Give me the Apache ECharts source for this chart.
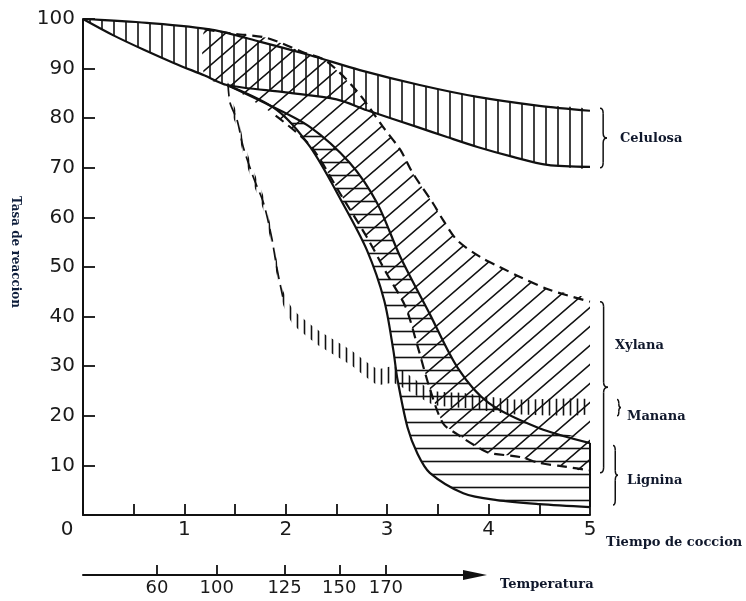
<!DOCTYPE html>
<html><head><meta charset="utf-8">
<script src="https://cdn.jsdelivr.net/npm/echarts@6/dist/echarts.min.js"></script>
<style>html,body{margin:0;padding:0;background:#fff}#c{width:746px;height:601px}</style>
</head><body><div id="c"></div>
<script>
// ---------- data (time of cooking vs. reaction rate) ----------
const celUpX = [0, 0.63, 1.28, 1.75, 2.24, 2.73, 3.32, 3.89, 4.5, 5];
const celUpY = [100, 99.2, 97.8, 95.4, 92.7, 89.7, 86.7, 84.3, 82.5, 81.5];
const celLoX = [0, 0.3, 0.6, 0.9, 1.2, 1.42, 2.0, 2.5, 2.8, 3.3, 3.59, 3.89, 4.24, 4.58, 5];
const celLoY = [100, 96.7, 93.8, 91.1, 88.6, 86.7, 85.2, 83.8, 81.6, 78.2, 76.2, 74.2, 72.2, 70.6, 70.2];

const xylUpX = [1.2, 1.5, 1.81, 2.17, 2.4, 2.7, 2.96, 3.13, 3.25, 3.45, 3.55, 3.69, 3.92, 4.11, 4.31, 4.6, 5];
const xylUpY = [97.9, 97.0, 96.2, 93.3, 91.5, 85.5, 78.2, 73.6, 69, 62.9, 59.5, 55.4, 52, 50, 48, 45.4, 43];
const xylLoX = [1.2, 1.42, 1.9, 2.24, 2.56, 2.8, 3.0, 3.18, 3.3, 3.42, 3.55, 3.69, 3.89, 4.01, 4.31, 4.5, 4.77, 5];
const xylLoY = [88.2, 86.7, 80.5, 74.5, 64, 56, 48.5, 42, 34, 25.5, 18.5, 16.3, 13.7, 12.5, 11.7, 10.5, 9.7, 9];

const ligLoX = [1.42, 1.91, 2.24, 2.56, 2.8, 2.97, 3.06, 3.1, 3.2, 3.3, 3.42, 3.75, 4.08, 4.5, 5];
const ligLoY = [86.7, 81.7, 74.2, 62.9, 53.4, 43.3, 33.3, 27.5, 17.7, 12.3, 8.5, 4.4, 3.0, 2.2, 1.6];
const ligUpX = [1.42, 1.8, 2.24, 2.63, 2.9, 3.13, 3.42, 3.7, 4.0, 4.5, 5];
const ligUpY = [86.7, 83, 78.2, 71, 62.9, 52, 40.5, 29.5, 22.6, 17.5, 14.5];

const manX  = [1.43, 1.45, 1.52, 1.58, 1.68, 1.78, 1.86, 1.91, 1.97, 2.07, 2.31, 2.63, 2.9, 3.06, 3.16, 3.45, 3.75, 4.24, 5];
const manUp = [87.5, 84.5, 81, 75.6, 69.5, 64.3, 57.4, 51.4, 45.4, 41.5, 37.4, 33.4, 29.5, 30, 29, 25.1, 24.6, 23.3, 23.3];
const manLo = [86.5, 81.7, 78.2, 72.8, 66.7, 61.5, 54.6, 48.6, 42.6, 38.5, 34.4, 30.4, 26.3, 26.6, 25.6, 22.3, 21.6, 20.3, 20.3];

// temperature scale under the time axis
const tempLabels = ['60', '100', '125', '150', '170'];
const tempPos = [0.73, 1.32, 1.99, 2.53, 2.99];

// legend braces on the right
const legendNames = ['Celulosa', 'Xylana', 'Manana', 'Lignina'];
const braceTop = [82, 43, 23.3, 14];
const braceBottom = [70, 8.5, 20, 2];

// ---------- styling / layout ----------
const INK = '#111';
const TXT = '#10182c';
const braceLayout = [
  {dx: 10, w: 7, tx: 30, ty: 1},
  {dx: 10, w: 8, tx: 25, ty: -42},
  {dx: 27, w: 4, tx: 37, ty: 9},
  {dx: 23, w: 5, tx: 37, ty: 5}
];

function makePattern(kind, w, h, lw) {
  const c = document.createElement('canvas');
  c.width = w; c.height = h;
  const g = c.getContext('2d');
  g.strokeStyle = INK; g.lineWidth = lw; g.lineCap = 'butt';
  g.beginPath();
  if (kind === 'v') { g.moveTo(w / 2, 0); g.lineTo(w / 2, h); }
  else if (kind === 'h') { g.moveTo(0, h / 2); g.lineTo(w, h / 2); }
  else {
    for (let k = 0; k <= 2; k++) {
      g.moveTo((k - 1) * w - w * 0.2, h + h * 0.2);
      g.lineTo(k * w + w * 0.2, -h * 0.2);
    }
  }
  g.stroke();
  return {image: c, repeat: 'repeat'};
}

const patCel = makePattern('v', 12, 12, 1.6);
const patXyl = makePattern('d', 22, 19, 1.6);
const patLig = makePattern('h', 13, 13, 1.6);
const patMan = makePattern('v', 7, 7, 1.6);

function band(upX, upY, loX, loY, pattern, z) {
  return {
    type: 'custom', coordinateSystem: 'cartesian2d', xAxisIndex: 0, yAxisIndex: 0,
    silent: true, z: z, clip: true, animation: false,
    data: [[upX[0], upY[0]]],
    renderItem: function (params, api) {
      const pts = [];
      const push = function (p) {
        const q = pts[pts.length - 1];
        if (!q || Math.abs(q[0] - p[0]) > 0.01 || Math.abs(q[1] - p[1]) > 0.01) pts.push(p);
      };
      for (let i = 0; i < upX.length; i++) push(api.coord([upX[i], upY[i]]));
      for (let i = loX.length - 1; i >= 0; i--) push(api.coord([loX[i], loY[i]]));
      return {type: 'polygon', shape: {points: pts, smooth: 0.2}, style: {fill: pattern, stroke: null}};
    }
  };
}

function curve(xs, ys, dashed, fromX, toX, width) {
  const data = [];
  for (let i = 0; i < xs.length; i++) {
    if ((fromX == null || xs[i] >= fromX) && (toX == null || xs[i] <= toX)) data.push([xs[i], ys[i]]);
  }
  return {
    type: 'line', data: data, smooth: 0.3, showSymbol: false, symbol: 'none', silent: true, z: 5,
    animation: false,
    lineStyle: {color: INK, width: width || 2.2, type: dashed ? (Array.isArray(dashed) ? dashed : [10, 6]) : 'solid'}
  };
}

const manMid = manUp.map(function (u, i) { return (u + manLo[i]) / 2; });

const chart = echarts.init(document.getElementById('c'), null, {renderer: 'canvas'});

const labelFont = {fontFamily: 'DejaVu Sans', fontSize: 20, color: '#1a1a1a'};
const nameFont = {fontFamily: 'DejaVu Serif', fontWeight: 'bold', fontSize: 13, color: TXT};

chart.setOption({
  animation: false,
  backgroundColor: '#fff',
  grid: [
    {left: 83, top: 19, width: 507, height: 496},
    {left: 83, top: 574, width: 392, height: 1}
  ],
  xAxis: [
    {
      type: 'value', gridIndex: 0, min: 0, max: 5, interval: 0.5,
      axisLine: {lineStyle: {color: INK, width: 2}},
      axisTick: {inside: true, length: 11, lineStyle: {color: INK, width: 1.8}},
      splitLine: {show: false},
      axisLabel: Object.assign({
        margin: 5, showMinLabel: true, showMaxLabel: true,
        formatter: function (v) {
          if (Math.abs(v - Math.round(v)) > 1e-6) return '';
          return v === 0 ? '{z|0}' : String(Math.round(v));
        },
        rich: {z: Object.assign({padding: [0, 32, 0, 0]}, labelFont)}
      }, labelFont),
      name: 'Tiempo de coccion', nameLocation: 'end', nameGap: 16,
      nameTextStyle: Object.assign({verticalAlign: 'top', align: 'left', padding: [21, 0, 0, 0]}, nameFont)
    },
    {
      type: 'value', gridIndex: 1, min: 0, max: 3.87,
      axisLine: {lineStyle: {color: INK, width: 2}, symbol: ['none', 'triangle'], symbolSize: [10, 24]},
      axisTick: {inside: true, length: 10, customValues: tempPos, lineStyle: {color: INK, width: 1.8}},
      splitLine: {show: false},
      axisLabel: {
        margin: 4, customValues: tempPos, fontFamily: 'DejaVu Sans', color: '#1a1a1a', fontSize: 18,
        formatter: function (v) { const i = tempPos.indexOf(v); return i >= 0 ? tempLabels[i] : ''; }
      },
      name: 'Temperatura', nameLocation: 'end', nameGap: 25,
      nameTextStyle: Object.assign({verticalAlign: 'top', align: 'left', padding: [3, 0, 0, 0]}, nameFont)
    }
  ],
  yAxis: [
    {
      type: 'value', gridIndex: 0, min: 0, max: 100, interval: 10,
      axisLine: {show: true, lineStyle: {color: INK, width: 2}},
      axisTick: {show: true, inside: true, length: 12, lineStyle: {color: INK, width: 1.8}},
      splitLine: {show: false},
      axisLabel: Object.assign({margin: 8, formatter: function (v) { return v === 0 ? '' : String(v); }}, labelFont),
      name: 'Tasa de reaccion', nameLocation: 'middle', nameGap: 62, nameRotate: -90,
      nameTextStyle: Object.assign({padding: [0, 30, 0, 0]}, nameFont, {fontSize: 12, color: '#0e1e3c'})
    },
    {type: 'value', gridIndex: 1, min: 0, max: 1, show: false}
  ],
  series: [
    band(celUpX, celUpY, celLoX, celLoY, patCel, 2),
    band(xylUpX, xylUpY, xylLoX, xylLoY, patXyl, 2),
    band(ligUpX, ligUpY, ligLoX, ligLoY, patLig, 2),
    band(manX, manUp, manX, manLo, patMan, 3),
    curve(manX, manMid, [13, 6], null, 1.97, 1.7),
    curve(celUpX, celUpY, false),
    curve(celLoX, celLoY, false),
    curve(xylUpX, xylUpY, true),
    curve(xylLoX, xylLoY, true, 1.9),
    curve(ligLoX, ligLoY, false),
    curve(ligUpX, ligUpY, false),
    {
      type: 'line', silent: true, symbol: 'none', showSymbol: false, z: 5, animation: false,
      data: [[ligLoX[ligLoX.length - 1], ligLoY[ligLoY.length - 1]], [ligUpX[ligUpX.length - 1], ligUpY[ligUpY.length - 1]]],
      lineStyle: {color: INK, width: 2}
    },
    {
      type: 'custom', coordinateSystem: 'cartesian2d', xAxisIndex: 0, yAxisIndex: 0,
      silent: true, z: 6, clip: false, animation: false,
      data: legendNames.map(function (n, i) { return [5, (braceTop[i] + braceBottom[i]) / 2, i]; }),
      renderItem: function (params, api) {
        const i = api.value(2);
        const L = braceLayout[i];
        const top = api.coord([5, braceTop[i]]);
        const bot = api.coord([5, braceBottom[i]]);
        const x0 = top[0] + L.dx, y0 = top[1], y1 = bot[1], ym = (y0 + y1) / 2;
        const xm = x0 + L.w * 0.45;
        const r = Math.min(5, (y1 - y0) / 4);
        const st = {stroke: INK, lineWidth: 1.5, fill: null};
        return {
          type: 'group',
          children: [
            {type: 'bezierCurve', shape: {x1: x0, y1: y0, x2: xm, y2: y0 + r, cpx1: xm, cpy1: y0}, style: st},
            {type: 'line', shape: {x1: xm, y1: y0 + r, x2: xm, y2: ym - r}, style: st},
            {type: 'bezierCurve', shape: {x1: xm, y1: ym - r, x2: x0 + L.w, y2: ym, cpx1: xm, cpy1: ym}, style: st},
            {type: 'bezierCurve', shape: {x1: x0 + L.w, y1: ym, x2: xm, y2: ym + r, cpx1: xm, cpy1: ym}, style: st},
            {type: 'line', shape: {x1: xm, y1: ym + r, x2: xm, y2: y1 - r}, style: st},
            {type: 'bezierCurve', shape: {x1: xm, y1: y1 - r, x2: x0, y2: y1, cpx1: xm, cpy1: y1}, style: st},
            {
              type: 'text', x: top[0] + L.tx, y: ym + L.ty,
              style: {text: legendNames[i], fill: TXT, fontFamily: 'DejaVu Serif', fontWeight: 'bold', fontSize: 13,
                align: 'left', verticalAlign: 'middle'}
            }
          ]
        };
      }
    }
  ]
});
</script></body></html>
